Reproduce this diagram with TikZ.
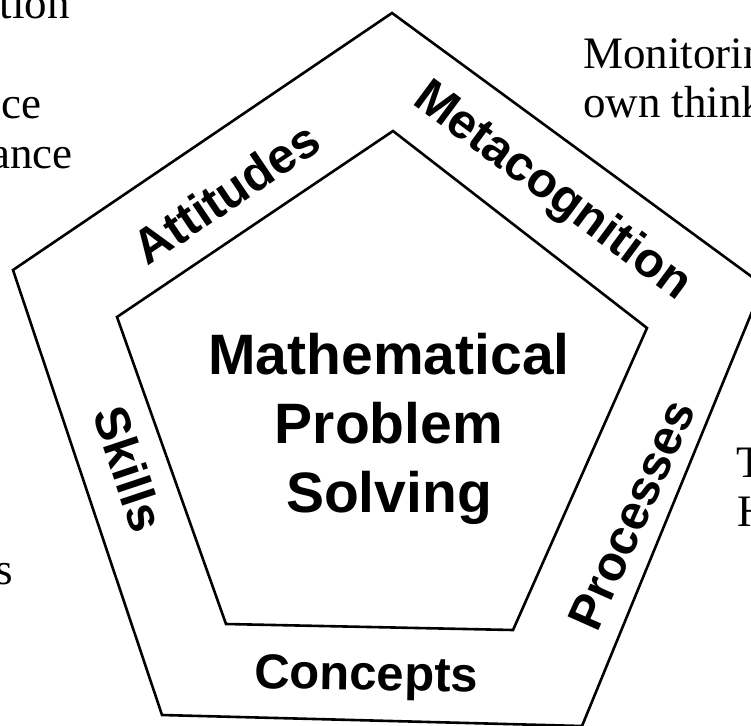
\documentclass[tikz,border=0pt]{standalone}
\usepackage{fontspec}
\setmainfont{Liberation Serif}
\setsansfont{Liberation Sans}
\begin{document}
\begin{tikzpicture}[x=1pt,y=-1pt,
  edge/.style={draw=black, line width=2.6pt, line join=miter},
  bandlabel/.style={font=\sffamily\bfseries\fontsize{49}{52}\selectfont, inner sep=0pt},
  centrelabel/.style={font=\sffamily\bfseries\fontsize{57}{69}\selectfont, inner sep=0pt, align=center},
  sidetext/.style={font=\fontsize{45}{49}\selectfont, inner sep=0pt}]
\useasboundingbox (0,0) rectangle (751,725);
\clip (0,0) rectangle (751,725);
% outer pentagon
\coordinate (OT) at (392,13);
\coordinate (OL) at (13,270);
\coordinate (OBL) at (162,715);
\coordinate (OBR) at (582,726);
\coordinate (OR) at (763,285);
\draw[edge] (OT) -- (OL) -- (OBL) -- (OBR) -- (OR) -- cycle;
% inner pentagon
\coordinate (IT) at (393,131);
\coordinate (IL) at (117,317);
\coordinate (IBL) at (226,624);
\coordinate (IBR) at (513,630);
\coordinate (IR) at (647,328);
\draw[edge] (IT) -- (IL) -- (IBL) -- (IBR) -- (IR) -- cycle;
% centre
\node[centrelabel] (centre) at (389,429) {Mathematical\\Problem\\Solving};
% band labels
\node[bandlabel, rotate=34] (attitudes) at (226,193) {Attitudes};
\node[bandlabel, rotate=-36.5] (meta) at (552,192) {Metacognition};
\node[bandlabel, rotate=-71.5] (skills) at (129,469) {Skills};
\node[bandlabel, rotate=66] (processes) at (632,515) {Processes};
\node[bandlabel, rotate=-1, anchor=base] (concepts) at (366,690) {Concepts};
% side texts (cut by the picture's edge)
\node[sidetext, anchor=base east] (t1) at (70,19) {tion};
\node[sidetext, anchor=base east] (t2) at (42,118) {ce};
\node[sidetext, anchor=base east] (t3) at (73,168) {ance};
\node[sidetext, anchor=base east] (t4) at (13,584) {s};
\node[sidetext, anchor=base west] (r1) at (583,68) {Monitorin};
\node[sidetext, anchor=base west] (r2) at (583,117) {own think};
\node[sidetext, anchor=base west] (r3) at (736,477) {T};
\node[sidetext, anchor=base west] (r4) at (737,526) {H};
\end{tikzpicture}
\end{document}
